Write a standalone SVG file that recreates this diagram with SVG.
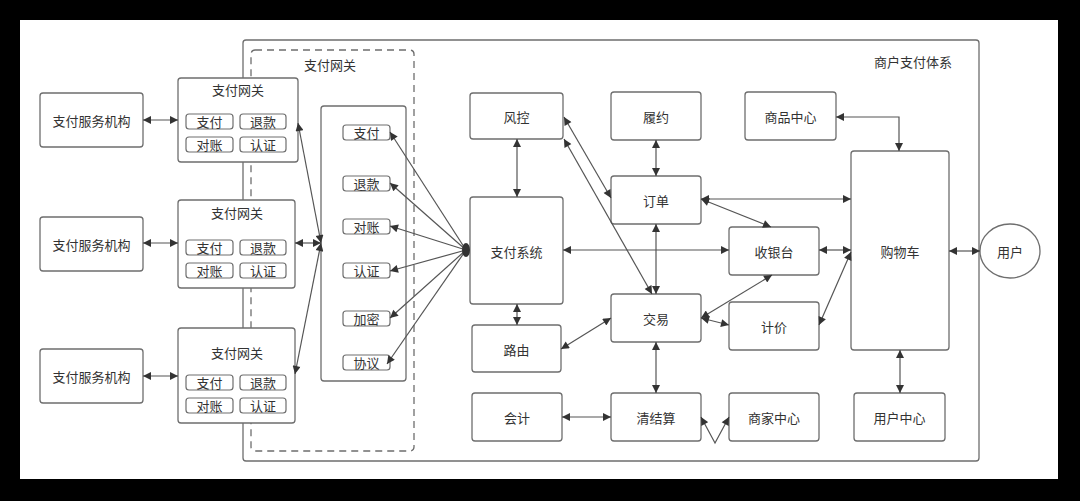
<svg xmlns="http://www.w3.org/2000/svg" width="1080" height="501" viewBox="0 0 1080 501">
<style>
.box{fill:#fff;stroke:#6e6e6e;stroke-width:1.3}
.btn{fill:#fff;stroke:#6e6e6e;stroke-width:1.2}
.t{font-family:"Noto Sans CJK SC","Noto Sans",sans-serif;font-size:13px;fill:#333;text-anchor:middle;dominant-baseline:central}
.c{fill:none;stroke:#555;stroke-width:1.2;marker-start:url(#ah);marker-end:url(#ah)}
.c1{fill:none;stroke:#555;stroke-width:1.2;marker-end:url(#ah)}
</style>
<defs>
<marker id="ah" viewBox="0 0 10 10" refX="10" refY="5" markerWidth="10" markerHeight="8" markerUnits="userSpaceOnUse" orient="auto-start-reverse">
<path d="M0,0 L10,5 L0,10 z" fill="#333"/>
</marker>
</defs>
<rect x="0" y="0" width="1080" height="501" fill="#000"/>
<rect x="20" y="20" width="1038" height="459" fill="#fff"/>

<g id="system">
<rect x="243" y="40" width="736" height="421" rx="3" fill="none" stroke="#6e6e6e" stroke-width="1.3"/>
<text class="t" x="913" y="61">商户支付体系</text>
</g>
<g id="gateway-group">
<rect x="251" y="50" width="163" height="401" rx="4" fill="none" stroke="#6e6e6e" stroke-width="1.3" stroke-dasharray="7,5"/>
<text class="t" x="330" y="64">支付网关</text>
</g>

<g id="svc1"><rect class="box" x="40" y="93" width="103" height="54" rx="3"/><text class="t" x="91.5" y="120">支付服务机构</text></g>
<g id="svc2"><rect class="box" x="40" y="217" width="103" height="54" rx="3"/><text class="t" x="91.5" y="244">支付服务机构</text></g>
<g id="svc3"><rect class="box" x="40" y="349" width="103" height="54" rx="3"/><text class="t" x="91.5" y="376">支付服务机构</text></g>

<g id="gw1">
<rect class="box" x="178" y="78" width="120" height="84" rx="3"/>
<text class="t" x="238" y="89">支付网关</text>
<rect class="btn" x="186" y="114" width="47" height="15" rx="3"/><text class="t" x="209.5" y="121.5">支付</text>
<rect class="btn" x="240" y="114" width="46" height="15" rx="3"/><text class="t" x="263" y="121.5">退款</text>
<rect class="btn" x="186" y="137" width="47" height="15" rx="3"/><text class="t" x="209.5" y="144.5">对账</text>
<rect class="btn" x="240" y="137" width="46" height="15" rx="3"/><text class="t" x="263" y="144.5">认证</text>
</g>
<g id="gw2">
<rect class="box" x="178" y="200" width="117" height="88" rx="3"/>
<text class="t" x="237" y="212">支付网关</text>
<rect class="btn" x="186" y="240" width="47" height="15" rx="3"/><text class="t" x="209.5" y="247.5">支付</text>
<rect class="btn" x="240" y="240" width="46" height="15" rx="3"/><text class="t" x="263" y="247.5">退款</text>
<rect class="btn" x="186" y="263" width="47" height="15" rx="3"/><text class="t" x="209.5" y="270.5">对账</text>
<rect class="btn" x="240" y="263" width="46" height="15" rx="3"/><text class="t" x="263" y="270.5">认证</text>
</g>
<g id="gw3">
<rect class="box" x="178" y="328" width="117" height="95" rx="3"/>
<text class="t" x="237" y="352">支付网关</text>
<rect class="btn" x="186" y="375" width="47" height="15" rx="3"/><text class="t" x="209.5" y="382.5">支付</text>
<rect class="btn" x="240" y="375" width="46" height="15" rx="3"/><text class="t" x="263" y="382.5">退款</text>
<rect class="btn" x="186" y="398" width="47" height="15" rx="3"/><text class="t" x="209.5" y="405.5">对账</text>
<rect class="btn" x="240" y="398" width="46" height="15" rx="3"/><text class="t" x="263" y="405.5">认证</text>
</g>

<g id="gw-list">
<rect class="box" x="321" y="106" width="85" height="275" rx="3"/>
<rect class="btn" x="343" y="125" width="47" height="15" rx="3"/><text class="t" x="366.5" y="132.5">支付</text>
<rect class="btn" x="343" y="176" width="47" height="15" rx="3"/><text class="t" x="366.5" y="183.5">退款</text>
<rect class="btn" x="343" y="219" width="47" height="15" rx="3"/><text class="t" x="366.5" y="226.5">对账</text>
<rect class="btn" x="343" y="263" width="47" height="15" rx="3"/><text class="t" x="366.5" y="270.5">认证</text>
<rect class="btn" x="343" y="311" width="47" height="15" rx="3"/><text class="t" x="366.5" y="318.5">加密</text>
<rect class="btn" x="343" y="355" width="47" height="15" rx="3"/><text class="t" x="366.5" y="362.5">协议</text>
</g>

<g id="fengkong"><rect class="box" x="470" y="93" width="93" height="46" rx="3"/><text class="t" x="516.5" y="116">风控</text></g>
<g id="zhifuxitong"><rect class="box" x="470" y="197" width="93" height="107" rx="3"/><text class="t" x="516.5" y="251">支付系统</text></g>
<g id="luyou"><rect class="box" x="472" y="325" width="89" height="47" rx="3"/><text class="t" x="516.5" y="349">路由</text></g>
<g id="kuaiji"><rect class="box" x="472" y="393" width="90" height="48" rx="3"/><text class="t" x="517" y="417">会计</text></g>
<g id="lvyue"><rect class="box" x="611" y="92" width="90" height="48" rx="3"/><text class="t" x="656" y="116">履约</text></g>
<g id="dingdan"><rect class="box" x="611" y="176" width="90" height="48" rx="3"/><text class="t" x="656" y="200">订单</text></g>
<g id="jiaoyi"><rect class="box" x="611" y="294" width="90" height="48" rx="3"/><text class="t" x="656" y="318">交易</text></g>
<g id="qingjiesuan"><rect class="box" x="611" y="393" width="90" height="48" rx="3"/><text class="t" x="656" y="417">清结算</text></g>
<g id="shangpin"><rect class="box" x="745" y="92" width="91" height="48" rx="3"/><text class="t" x="790.5" y="116">商品中心</text></g>
<g id="shouyintai"><rect class="box" x="729" y="227" width="90" height="48" rx="3"/><text class="t" x="774" y="251">收银台</text></g>
<g id="jijia"><rect class="box" x="729" y="302" width="90" height="48" rx="3"/><text class="t" x="774" y="326">计价</text></g>
<g id="shangjia"><rect class="box" x="729" y="393" width="90" height="48" rx="3"/><text class="t" x="774" y="417">商家中心</text></g>
<g id="gouwuche"><rect class="box" x="851" y="151" width="98" height="199" rx="3"/><text class="t" x="900" y="251">购物车</text></g>
<g id="yonghuzhongxin"><rect class="box" x="854" y="393" width="91" height="48" rx="3"/><text class="t" x="899.5" y="417">用户中心</text></g>
<g id="yonghu"><ellipse class="box" cx="1010" cy="251" rx="30" ry="27"/><text class="t" x="1010" y="251">用户</text></g>

<g id="connectors">
<line class="c" x1="143" y1="120" x2="178" y2="120"/>
<line class="c" x1="143" y1="243" x2="178" y2="243"/>
<line class="c" x1="143" y1="376" x2="178" y2="376"/>
<line class="c" x1="321" y1="243" x2="298" y2="123"/>
<line class="c" x1="295" y1="243" x2="321" y2="243"/>
<line class="c" x1="321" y1="243" x2="295" y2="374"/>
<line class="c1" x1="466" y1="250" x2="390" y2="132"/>
<line class="c1" x1="466" y1="250" x2="390" y2="183"/>
<line class="c1" x1="466" y1="250" x2="390" y2="226"/>
<line class="c1" x1="466" y1="250" x2="390" y2="271"/>
<line class="c1" x1="466" y1="250" x2="390" y2="318"/>
<line class="c1" x1="466" y1="250" x2="387" y2="364"/>
<ellipse cx="466" cy="250" rx="4" ry="7" fill="#333"/>
<line class="c" x1="517" y1="139" x2="517" y2="197"/>
<line class="c" x1="517" y1="304" x2="517" y2="325"/>
<line class="c" x1="564" y1="117" x2="611" y2="198"/>
<line class="c" x1="564" y1="139" x2="652" y2="294"/>
<line class="c" x1="656" y1="140" x2="656" y2="176"/>
<line class="c" x1="656" y1="224" x2="656" y2="294"/>
<line class="c" x1="701" y1="199" x2="851" y2="199"/>
<line class="c" x1="701" y1="199" x2="771" y2="227"/>
<line class="c" x1="563" y1="250" x2="729" y2="250"/>
<line class="c" x1="819" y1="250" x2="851" y2="250"/>
<line class="c" x1="701" y1="318" x2="772" y2="275"/>
<line class="c" x1="701" y1="318" x2="729" y2="325"/>
<line class="c" x1="819" y1="325" x2="851" y2="252"/>
<line class="c" x1="561" y1="349" x2="611" y2="318"/>
<line class="c" x1="656" y1="342" x2="656" y2="393"/>
<line class="c" x1="562" y1="417" x2="611" y2="417"/>
<polyline class="c" points="701,417 715,443 729,417"/>
<polyline class="c" points="836,117 899,117 899,151"/>
<line class="c" x1="949" y1="251" x2="980" y2="251"/>
<line class="c" x1="900" y1="350" x2="900" y2="393"/>
</g>
</svg>
